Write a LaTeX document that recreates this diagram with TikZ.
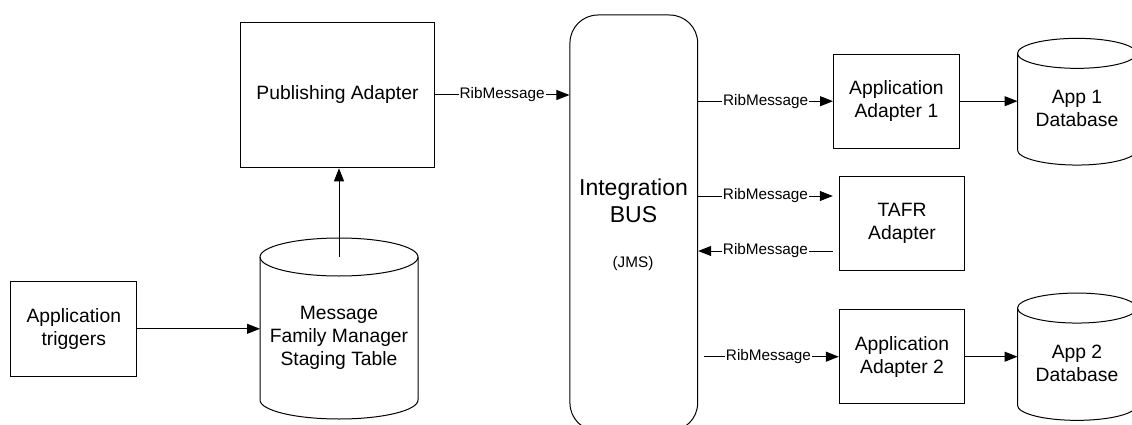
\documentclass[tikz,border=0pt]{standalone}
\usepackage{fontspec}
\setmainfont{Liberation Sans}
\usetikzlibrary{arrows.meta}

\tikzset{
  box/.style={draw, line width=1pt, align=center, inner sep=0pt,
    font=\fontsize{19.3}{23}\selectfont},
  label19/.style={align=center, inner sep=0pt, font=\fontsize{19.3}{23}\selectfont},
  cylframe/.style={inner sep=0pt, outer sep=0pt},
  drumline/.style={line width=1pt},
  flow/.style={line width=1pt, -{Triangle[length=13pt,width=10pt]}},
  msg/.style={fill=white, inner sep=1pt, font=\fontsize{15.3}{18}\selectfont},
}

% database drum drawn round a frame node: #1 node, #2 x radius, #3 y radius
\newcommand\drumshape[3]{%
  \draw[drumline] ([yshift=-#3pt]#1.north) ellipse [x radius=#2pt, y radius=#3pt];
  \draw[drumline] ([yshift=-#3pt]#1.north west) -- ([yshift=#3pt]#1.south west)
    .. controls +(0,0.5523*#3) and +(-0.5523*#2,0) .. (#1.south)
    .. controls +(0.5523*#2,0) and +(0,0.5523*#3) .. ([yshift=#3pt]#1.south east)
    -- ([yshift=-#3pt]#1.north east);
}

\begin{document}
\begin{tikzpicture}[x=1pt,y=-1pt]
\useasboundingbox (0,0) rectangle (1132,425);

% left side: trigger, staging table, publisher
\node[box, minimum width=125.7pt, minimum height=95pt] (trig) at (73.8,328.8) {Application\\triggers};
\node[box, minimum width=193.6pt, minimum height=145.5pt] (pub) at (337.5,95) {Publishing Adapter};

\node[cylframe, minimum width=158pt, minimum height=181pt] (mfm) at (339,328.5) {};
\drumshape{mfm}{79}{19}
\node[label19] (mfmtext) at (339,338) {Message\\Family Manager\\Staging Table};

% integration bus
\node[draw, line width=1pt, rounded corners=28pt, minimum width=127.7pt,
      minimum height=416pt] (bus) at (633.8,223) {};
\node[align=center, inner sep=0pt, font=\fontsize{23}{27}\selectfont] (bustitle) at (633.5,201) {Integration\\BUS};
\node[inner sep=0pt, font=\fontsize{15.3}{18}\selectfont] (jms) at (633,263.7) {(JMS)};

% subscribers
\node[box, minimum width=125.8pt, minimum height=94.3pt] (aa1) at (896.4,101.2) {Application\\Adapter 1};
\node[box, minimum width=125.4pt, minimum height=93.6pt] (tafr) at (902,223.5) {TAFR\\Adapter};
\node[box, minimum width=125.4pt, minimum height=94pt] (aa2) at (902,356.7) {Application\\Adapter 2};

\node[cylframe, minimum width=119pt, minimum height=126.7pt] (db1) at (1077,101.7) {};
\drumshape{db1}{59.5}{15}
\node[label19] (db1text) at (1077,108) {App 1\\Database};

\node[cylframe, minimum width=119pt, minimum height=127.3pt] (db2) at (1077,356.7) {};
\drumshape{db2}{59.5}{15}
\node[label19] (db2text) at (1077,363.3) {App 2\\Database};

% connectors
\coordinate (mfmtop) at ([yshift=-19pt]mfm.north);
\coordinate (tin) at ([shift={(-6pt,27.5pt)}]tafr.west);
\coordinate (tout) at ([shift={(-6pt,-27.5pt)}]tafr.west);

\draw[flow] (trig.east) -- (trig.east -| mfm.west);
\draw[flow] (mfmtop) -- (mfmtop |- pub.south);
\draw[flow] (pub.east) -- node[msg] {RibMessage} (pub.east -| bus.west);
\draw[flow] (aa1.west -| bus.east) -- node[msg] {RibMessage} (aa1.west);
\draw[flow] (tin -| bus.east) -- node[msg] {RibMessage} (tin);
\draw[flow] (tout) -- node[msg] {RibMessage} (tout -| bus.east);
\draw[flow, shorten <=5.6pt] (bus.east |- aa2.west) -- node[msg] {RibMessage} (aa2.west);
\draw[flow] (aa1.east) -- (aa1.east -| db1.west);
\draw[flow] (aa2.east) -- (aa2.east -| db2.west);
\end{tikzpicture}
\end{document}
